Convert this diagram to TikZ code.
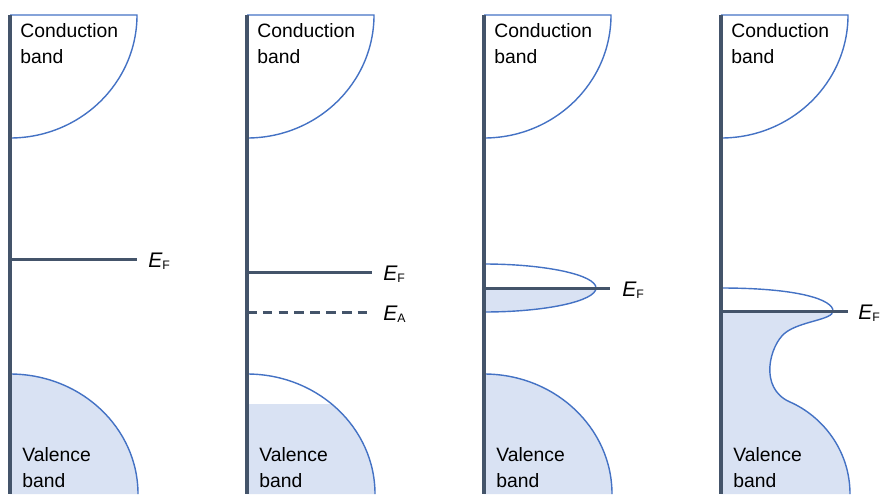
\documentclass[tikz,border=0pt]{standalone}
\usepackage{fontspec}
\setmainfont{Liberation Sans}
\usetikzlibrary{positioning}
\definecolor{gris}{HTML}{44546A}
\definecolor{bleu}{HTML}{4472C4}
\definecolor{bleuclair}{HTML}{D9E2F3}
\newcommand{\niveau}[1]{{\itshape E}\raisebox{-1.5pt}{\fontsize{7}{8}\selectfont #1}}
\begin{document}
\begin{tikzpicture}[
    x=0.02cm, y=-0.02cm,  % une unité = un pixel, y vers le bas
    axe/.style={draw=gris, line width=1.8pt},
    ligne/.style={draw=gris, line width=1.7pt},
    bande/.style={draw=bleu, line width=0.8pt},
    texte/.style={anchor=north west, inner sep=0pt, align=left,
        font=\fontsize{11}{14.7}\selectfont},
    etiq/.style={inner sep=0pt, yshift=-1.3pt, font=\fontsize{12}{14}\selectfont}
]
\useasboundingbox (0,0) rectangle (891,494);

% Bandes de valence (remplissage)
\foreach \x in {10,484} {
  \fill[bleuclair] (\x,374) .. controls (\x+71,374) and (\x+128,428) .. (\x+128,494) -- (\x,494) -- cycle;
}
\begin{scope}
  \clip (247,404) rectangle (380,494);
  \fill[bleuclair] (247,374) .. controls (318,374) and (375,428) .. (375,494) -- (247,494) -- cycle;
\end{scope}
\foreach \x in {10,247,484} {
  \draw[bande] (\x,374) .. controls (\x+71,374) and (\x+128,428) .. (\x+128,494);
}

% Bande d'impuretés (3)
\fill[bleuclair] (484,288) -- (596,288) .. controls (596,301) and (546,312) .. (484,312) -- cycle;
\draw[bande] (484,264) .. controls (546,264) and (596,275) .. (596,288)
    .. controls (596,301) and (546,312) .. (484,312);

% Bandes fusionnées (4)
\fill[bleuclair] (721,311) -- (833,311) .. controls (833,320) and (800,321) .. (785,333)
    .. controls (770,345) and (758,388) .. (790,402)
    .. controls (822,416) and (850,450) .. (850,494) -- (721,494) -- cycle;
\draw[bande] (721,288) .. controls (800,288) and (833,300) .. (833,311)
    .. controls (833,320) and (800,321) .. (785,333)
    .. controls (770,345) and (758,388) .. (790,402)
    .. controls (822,416) and (850,450) .. (850,494);

% Bandes de conduction et axes
\foreach \x [count=\i] in {10,247,484,721} {
  \draw[bande] (\x,15) -- (\x+127,15) .. controls (\x+127,83) and (\x+70,138) .. (\x,138);
  \node[texte] (cb\i) at (\x+10,23) {Conduction\\band};
  \node[texte] (vb\i) at (\x+12,447) {Valence\\band};
  \draw[axe] (\x,15) -- (\x,494);
}

% Niveaux
\coordinate (f1) at (137,259);
\coordinate (f2) at (372,272);
\coordinate (a2) at (372,312);
\coordinate (f3) at (610,288);
\coordinate (f4) at (848,311);
\draw[ligne] (10,259) -- (f1);
\draw[ligne] (247,272) -- (f2);
\draw[ligne, dash pattern=on 5.5pt off 3.5pt] (247,312) -- (a2);
\draw[ligne] (484,288) -- (f3);
\draw[ligne] (721,311) -- (f4);
\node[etiq, right=0.22cm of f1] (ef1) {\niveau{F}};
\node[etiq, right=0.22cm of f2] (ef2) {\niveau{F}};
\node[etiq, right=0.22cm of a2] (ea2) {\niveau{A}};
\node[etiq, right=0.24cm of f3] (ef3) {\niveau{F}};
\node[etiq, right=0.2cm of f4] (ef4) {\niveau{F}};
\end{tikzpicture}
\end{document}
